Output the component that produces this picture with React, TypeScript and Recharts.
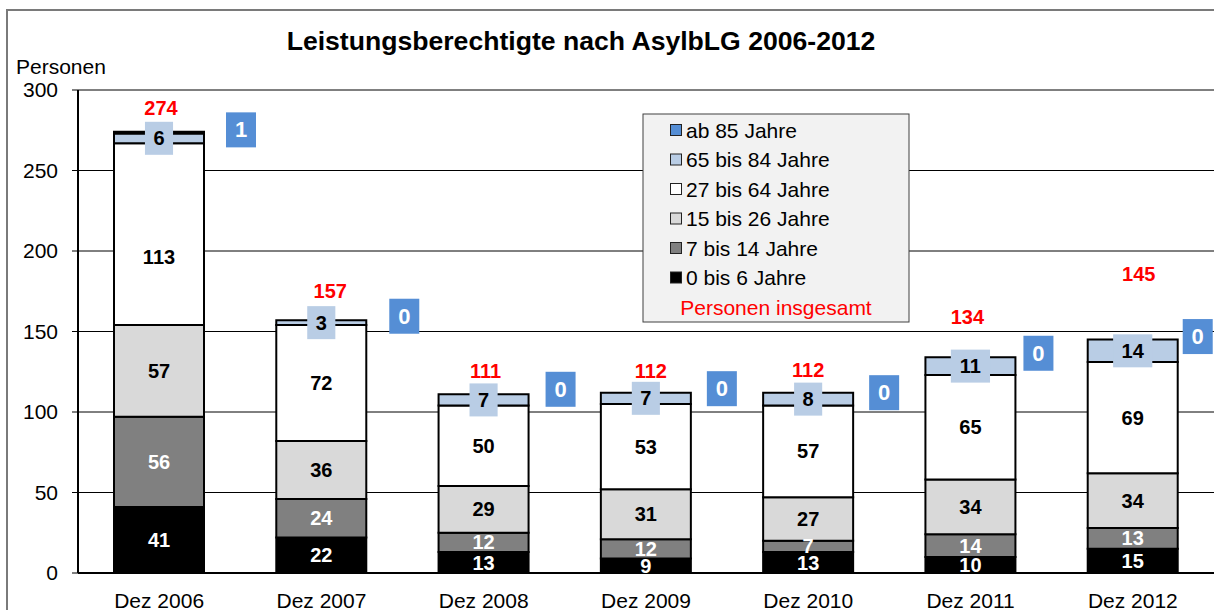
import React from 'react';
import { BarChart, Bar, XAxis, YAxis, CartesianGrid, LabelList } from 'recharts';

// ---------- data ----------
const categories = ['Dez 2006', 'Dez 2007', 'Dez 2008', 'Dez 2009', 'Dez 2010', 'Dez 2011', 'Dez 2012'];
const age0to6 = [41, 22, 13, 9, 13, 10, 15];
const age7to14 = [56, 24, 12, 12, 7, 14, 13];
const age15to26 = [57, 36, 29, 31, 27, 34, 34];
const age27to64 = [113, 72, 50, 53, 57, 65, 69];
const age65to84 = [6, 3, 7, 7, 8, 11, 14];
const age85plus = [1, 0, 0, 0, 0, 0, 0];
const totals = [274, 157, 111, 112, 112, 134, 145];
const yTicks = [0, 50, 100, 150, 200, 250, 300];

const seriesNames = {
  a85: 'ab 85 Jahre',
  a65: '65 bis 84 Jahre',
  a27: '27 bis 64 Jahre',
  a15: '15 bis 26 Jahre',
  a7: '7 bis 14 Jahre',
  a0: '0 bis 6 Jahre',
};

const data = categories.map((name, i) => ({
  name,
  a0: age0to6[i],
  a7: age7to14[i],
  a15: age15to26[i],
  a27: age27to64[i],
  a65: age65to84[i],
  a85: age85plus[i],
  total: totals[i],
}));

// ---------- style ----------
const FONT = '"Liberation Sans", Arial, Helvetica, sans-serif';
const W = 1214;
const H = 610;
const COLORS = {
  a0: '#000000',
  a7: '#808080',
  a15: '#d9d9d9',
  a27: '#ffffff',
  a65: '#b9cde5',
  a85: '#558ed5',
};
// placement tweaks of the red total labels (pixels above bar top / horizontal shift)
const totalLabelShift = [
  { dx: 2, lift: 24 },
  { dx: 9, lift: 29 },
  { dx: 2, lift: 23 },
  { dx: 5, lift: 22 },
  { dx: 0, lift: 23 },
  { dx: -3, lift: 40 },
  { dx: 6, lift: 66 },
];
// placement of the blue "ab 85" boxes relative to the bar centre / top (pixels)
const blueBoxShift = [
  { dx: 82, dy: -2 },
  { dx: 83, dy: -4 },
  { dx: 77, dy: -5 },
  { dx: 76, dy: -4 },
  { dx: 76, dy: 0 },
  { dx: 68, dy: -4 },
  { dx: 65, dy: -3 },
];
// vertical pixel tweak of the "27 bis 64" labels
const midLabelDy = [23, 0, 0, 0, 0, 0, 0];

const geom = (p: any) => {
  const vb = p.viewBox || {};
  const x = p.x ?? vb.x;
  const y = p.y ?? vb.y;
  const width = p.width ?? vb.width;
  const height = p.height ?? vb.height;
  return { x: Number(x), y: Number(y), width: Number(width), height: Number(height) };
};

const segLabel = (fill: string, dys?: number[]) => (p: any) => {
  const { x, y, width, height } = geom(p);
  const dy = dys ? dys[p.index ?? 0] || 0 : 0;
  return (
    <text
      x={x + width / 2}
      y={y + height / 2 + dy}
      textAnchor="middle"
      dominantBaseline="central"
      fontFamily={FONT}
      fontSize={20}
      fontWeight="bold"
      fill={fill}
    >
      {p.value}
    </text>
  );
};

// light-blue boxed label of "65 bis 84", plus the blue "ab 85" box and red total
const upperLabels = (p: any) => {
  const { x, y, width, height } = geom(p);
  const i = p.index ?? 0;
  const txt = String(p.value);
  const bw = txt.length * 11.1 + 17;
  const bh = 33;
  const cx = x + width / 2;
  const cy = y + height / 2;
  const pxPerUnit = Math.abs(height) / Math.max(1e-9, Number(p.value));
  const top = y - age85plus[i] * pxPerUnit;
  const shift = totalLabelShift[i] || { dx: 0, lift: 25 };
  const bs = blueBoxShift[i] || { dx: 80, dy: -3 };
  const bx = cx + bs.dx;
  const by = top + bs.dy;
  return (
    <g>
      <rect x={cx - bw / 2} y={cy - bh / 2} width={bw} height={bh} fill={COLORS.a65} />
      <text
        x={cx}
        y={cy}
        textAnchor="middle"
        dominantBaseline="central"
        fontFamily={FONT}
        fontSize={20}
        fontWeight="bold"
        fill="#000"
      >
        {txt}
      </text>
      <rect x={bx - 15} y={by - 17.5} width={30} height={35} fill={COLORS.a85} />
      <text
        x={bx}
        y={by}
        textAnchor="middle"
        dominantBaseline="central"
        fontFamily={FONT}
        fontSize={22}
        fontWeight="bold"
        fill="#fff"
      >
        {age85plus[i]}
      </text>
      <text
        x={cx + shift.dx}
        y={top - shift.lift}
        textAnchor="middle"
        dominantBaseline="central"
        fontFamily={FONT}
        fontSize={20}
        fontWeight="bold"
        fill="#ff0000"
      >
        {totals[i]}
      </text>
    </g>
  );
};

const legendItems: { key: keyof typeof COLORS; label: string }[] = [
  { key: 'a85', label: seriesNames.a85 },
  { key: 'a65', label: seriesNames.a65 },
  { key: 'a27', label: seriesNames.a27 },
  { key: 'a15', label: seriesNames.a15 },
  { key: 'a7', label: seriesNames.a7 },
  { key: 'a0', label: seriesNames.a0 },
];

export default function App() {
  return (
    <div style={{ position: 'absolute', left: 0, top: 0, width: W, height: H, background: '#fff', overflow: 'hidden' }}>
      <BarChart
        width={W}
        height={H}
        data={data}
        margin={{ top: 90, right: 0, bottom: 0, left: 0 }}
        barSize={90}
      >
        <CartesianGrid horizontal vertical={false} stroke="#000" strokeWidth={1} />
        <XAxis
          dataKey="name"
          height={37}
          axisLine={{ stroke: '#000', strokeWidth: 2 }}
          tickLine={false}
          tickSize={0}
          tickMargin={20}
          tick={{ fontFamily: FONT, fontSize: 21, fill: '#000' }}
          interval={0}
        />
        <YAxis
          width={78}
          domain={[0, 300]}
          ticks={yTicks}
          allowDataOverflow
          axisLine={{ stroke: '#000', strokeWidth: 2 }}
          tickLine={{ stroke: '#000', strokeWidth: 1 }}
          tickSize={6}
          tickMargin={14}
          tick={{ fontFamily: FONT, fontSize: 21, fill: '#000' }}
        />
        <Bar dataKey="a0" stackId="s" name={seriesNames.a0} fill={COLORS.a0} stroke="#000" strokeWidth={2} isAnimationActive={false}>
          <LabelList dataKey="a0" content={segLabel('#fff')} />
        </Bar>
        <Bar dataKey="a7" stackId="s" name={seriesNames.a7} fill={COLORS.a7} stroke="#000" strokeWidth={2} isAnimationActive={false}>
          <LabelList dataKey="a7" content={segLabel('#fff')} />
        </Bar>
        <Bar dataKey="a15" stackId="s" name={seriesNames.a15} fill={COLORS.a15} stroke="#000" strokeWidth={2} isAnimationActive={false}>
          <LabelList dataKey="a15" content={segLabel('#000')} />
        </Bar>
        <Bar dataKey="a27" stackId="s" name={seriesNames.a27} fill={COLORS.a27} stroke="#000" strokeWidth={2} isAnimationActive={false}>
          <LabelList dataKey="a27" content={segLabel('#000', midLabelDy)} />
        </Bar>
        <Bar dataKey="a65" stackId="s" name={seriesNames.a65} fill={COLORS.a65} stroke="#000" strokeWidth={2} isAnimationActive={false}>
          <LabelList dataKey="a65" content={upperLabels} />
        </Bar>
        <Bar dataKey="a85" stackId="s" name={seriesNames.a85} fill={COLORS.a85} stroke="#000" strokeWidth={2} isAnimationActive={false} />
      </BarChart>
      <svg
        width={W}
        height={H}
        style={{ position: 'absolute', left: 0, top: 0, pointerEvents: 'none' }}
      >
        <rect x={7} y={10} width={W + 20} height={H + 20} fill="none" stroke="#7a7a7a" strokeWidth={2} />
        <text x={581} y={50} textAnchor="middle" fontFamily={FONT} fontSize={26.6} fontWeight="bold" fill="#000">
          Leistungsberechtigte nach AsylbLG 2006-2012
        </text>
        <text x={16} y={74} fontFamily={FONT} fontSize={21} fill="#000">
          Personen
        </text>
        <g>
          <rect x={643} y={114} width={266} height={208} fill="#f2f2f2" stroke="#404040" strokeWidth={1} />
          {legendItems.map((it, k) => {
            const cy = 130 + k * 29.5;
            return (
              <g key={it.key}>
                <rect x={670.5} y={cy - 5.5} width={11} height={11} fill={COLORS[it.key]} stroke="#222" strokeWidth={1} />
                <text x={686} y={cy} dominantBaseline="central" fontFamily={FONT} fontSize={21} fill="#000">
                  {it.label}
                </text>
              </g>
            );
          })}
          <text x={776} y={307} textAnchor="middle" dominantBaseline="central" fontFamily={FONT} fontSize={21} fill="#ff0000">
            Personen insgesamt
          </text>
        </g>
      </svg>
    </div>
  );
}
